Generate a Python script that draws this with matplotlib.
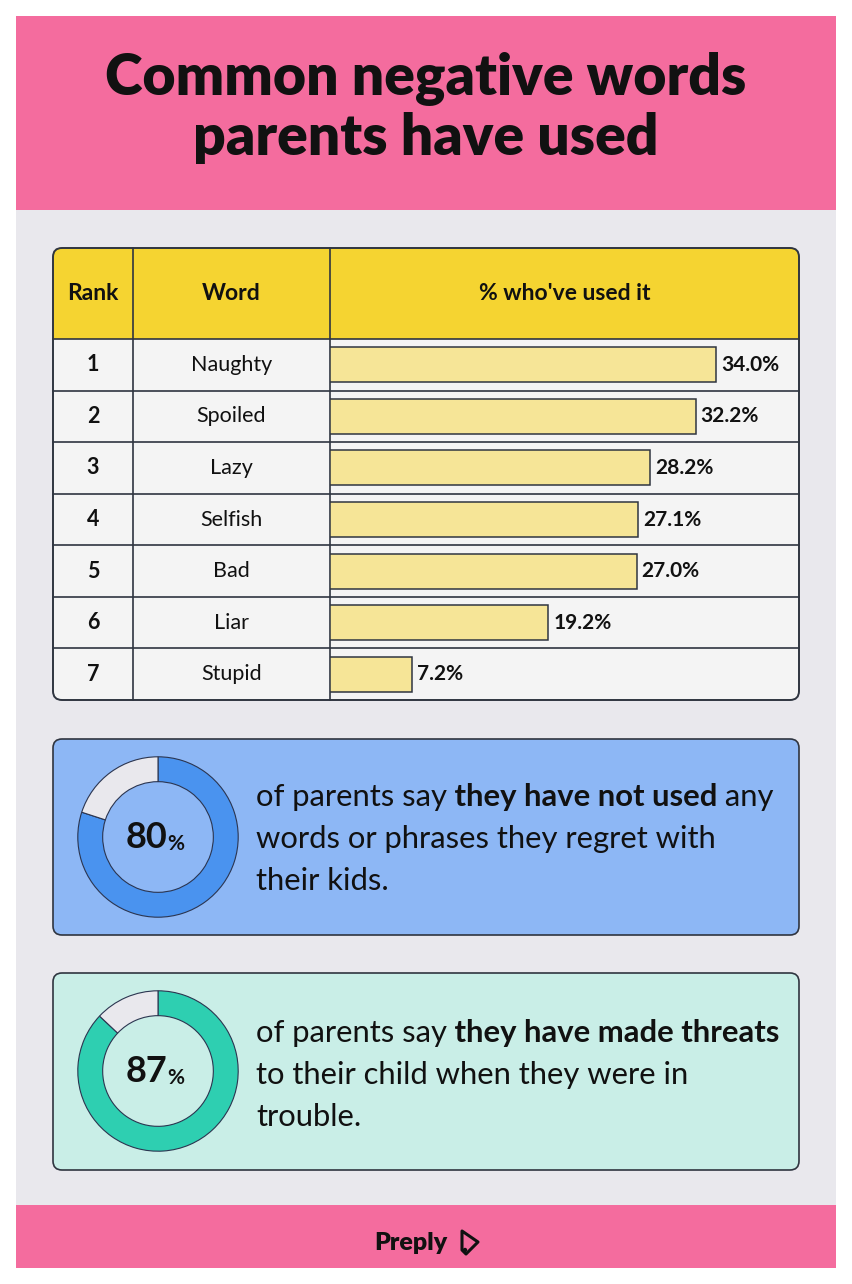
import numpy as np
import matplotlib
matplotlib.use("Agg")
import matplotlib.pyplot as plt
from matplotlib.patches import FancyBboxPatch, Rectangle, Polygon, Circle

# data
title_lines = ["Common negative words", "parents have used"]
col_heads = ["Rank", "Word", "% who've used it"]
ranks = [1, 2, 3, 4, 5, 6, 7]
words = ["Naughty", "Spoiled", "Lazy", "Selfish", "Bad", "Liar", "Stupid"]
pct_used = [34.0, 32.2, 28.2, 27.1, 27.0, 19.2, 7.2]

stat_not_used = 80
stat_threats = 87
lines_not_used = [[("of parents say", "normal"), (" they have not used", "bold"), (" any", "normal")],
                  [("words or phrases they regret with", "normal")],
                  [("their kids.", "normal")]]
lines_threats = [[("of parents say", "normal"), (" they have made threats", "bold")],
                 [("to their child when they were in", "normal")],
                 [("trouble.", "normal")]]

PINK = "#F46C9E"
BG = "#E9E8ED"
YELLOW = "#F5D431"
ROW = "#F4F4F4"
BAR = "#F6E597"
LINE = "#2F3540"
INK = "#111111"
FONT = "Lato"

W, H = 852, 1284
fig = plt.figure(figsize=(W / 100, H / 100), dpi=100)
fig.patch.set_facecolor("white")
ax = fig.add_axes([0, 0, 1, 1])
ax.set_xlim(0, W)
ax.set_ylim(H, 0)
ax.axis("off")


def px_axes(x0, y0, w, h):
    return fig.add_axes([x0 / W, 1 - (y0 + h) / H, w / W, h / H])


# header / background / footer
ax.add_patch(Rectangle((16, 16), 820, 194, fc=PINK, ec="none"))
ax.add_patch(Rectangle((16, 210), 820, 995, fc=BG, ec="none"))
ax.add_patch(Rectangle((16, 1205), 820, 63, fc=PINK, ec="none"))
for yb, s in zip([95, 155], title_lines):
    ax.text(426, yb, s, ha="center", va="baseline", fontsize=41, fontweight="heavy",
            family=FONT, color=INK)

# table
tx0, ty0, tw, th = 53, 248, 746, 452
head_h = 91
row_h = (th - head_h) / len(ranks)
col1, col2 = 133, 330
table = FancyBboxPatch((tx0, ty0), tw, th, boxstyle="round,pad=0,rounding_size=9",
                       fc=ROW, ec="none")
ax.add_patch(table)
hdr = Rectangle((tx0, ty0), tw, head_h, fc=YELLOW, ec="none")
ax.add_patch(hdr)
hdr.set_clip_path(table)
for i in range(len(ranks)):
    yl = ty0 + head_h + i * row_h
    ax.plot([tx0, tx0 + tw], [yl, yl], color=LINE, lw=1.2)
for xv in [col1, col2]:
    ax.plot([xv, xv], [ty0, ty0 + th], color=LINE, lw=1.2)
ax.add_patch(FancyBboxPatch((tx0, ty0), tw, th, boxstyle="round,pad=0,rounding_size=9",
                            fc="none", ec=LINE, lw=1.4))

hy = ty0 + head_h / 2
for xc, s in zip([(tx0 + col1) / 2, (col1 + col2) / 2, (col2 + tx0 + tw) / 2], col_heads):
    ax.text(xc, hy, s, ha="center", va="center", fontsize=16.5, fontweight="bold",
            family=FONT, color=INK)
for i, (r, wd) in enumerate(zip(ranks, words)):
    yc = ty0 + head_h + (i + 0.5) * row_h
    ax.text((tx0 + col1) / 2, yc, str(r), ha="center", va="center", fontsize=15.5,
            fontweight="bold", family=FONT, color=INK)
    ax.text((col1 + col2) / 2, yc, wd, ha="center", va="center", fontsize=15.5,
            family=FONT, color=INK)

# bars
bax = px_axes(col2, ty0 + head_h, tx0 + tw - col2, th - head_h)
bax.patch.set_visible(False)
ypos = np.arange(len(pct_used))
bax.barh(ypos, pct_used, height=0.68, color=BAR, edgecolor=LINE, linewidth=1.1)
for yp, v in zip(ypos, pct_used):
    bax.text(v + 0.45, yp, f"{v:.1f}%", ha="left", va="center", fontsize=15,
             fontweight="bold", family=FONT, color=INK)
bax.set_xlim(0, (tx0 + tw - col2) / (386 / 34.0))
bax.set_ylim(len(pct_used) - 0.5, -0.5)
bax.axis("off")


def stat_panel(y0, h, value, lines, panel_col, ring_col, cy, base0):
    ax.add_patch(FancyBboxPatch((53, y0), 746, h, boxstyle="round,pad=0,rounding_size=9",
                                fc=panel_col, ec=LINE, lw=1.2))
    r = 81
    pax = px_axes(158 - r, cy - r, 2 * r, 2 * r)
    pax.pie([value, 100 - value], colors=[ring_col, BG], startangle=90, counterclock=False,
            radius=1, wedgeprops=dict(width=0.31, edgecolor="#2B3550", linewidth=0.8))
    pax.set_xlim(-1.01, 1.01)
    pax.set_ylim(-1.01, 1.01)
    pax.axis("off")
    num = ax.text(126, cy + 11, str(value), ha="left", va="baseline", fontsize=26,
                  fontweight="bold", family=FONT, color=INK)
    ax.annotate("%", xy=(1, 0), xycoords=num, xytext=(0, 0), textcoords="offset points",
                ha="left", va="bottom", fontsize=15, fontweight="bold", family=FONT,
                color=INK)
    for k, segs in enumerate(lines):
        prev = None
        for s, wt in segs:
            if prev is None:
                prev = ax.text(256, base0 + k * 42, s, ha="left", va="baseline",
                               fontsize=22.3, fontweight=wt, family=FONT, color=INK)
            else:
                prev = ax.annotate(s, xy=(1, 0), xycoords=prev, ha="left", va="bottom",
                                   fontsize=22.3, fontweight=wt, family=FONT, color=INK)


stat_panel(739, 196, stat_not_used, lines_not_used, "#8DB7F5", "#4A93EF", 837, 806)
stat_panel(973, 197, stat_threats, lines_threats, "#C9EEE7", "#2ECFB1", 1071, 1042)

# footer logo
ax.text(411, 1243, "Preply", ha="center", va="center", fontsize=18, fontweight="heavy",
        family=FONT, color=INK)
ax.add_patch(Polygon([[462, 1231], [478, 1242], [466, 1254], [462, 1250]], closed=True,
                     fc="none", ec=INK, lw=2.2, joinstyle="round"))
ax.add_patch(Circle((465, 1250), 2.2, fc=INK, ec="none"))

fig.savefig("out.png", dpi=100, facecolor="white")
